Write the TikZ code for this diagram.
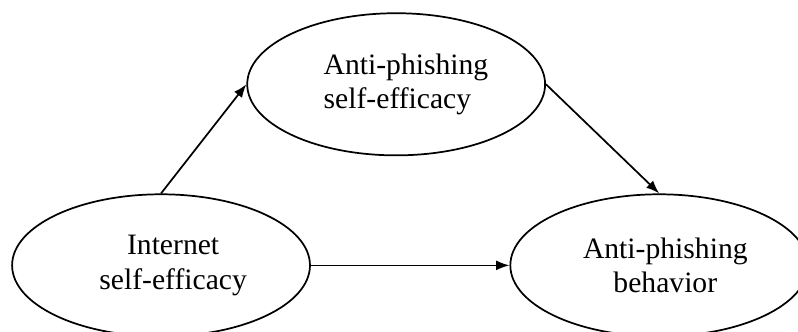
\documentclass[tikz,border=0pt]{standalone}
\usepackage{fontspec}
\setmainfont{Liberation Serif}
\usepackage{tikz}
\usetikzlibrary{arrows.meta, positioning, shapes.geometric}

\begin{document}
\begin{tikzpicture}[
    construct/.style={draw, ellipse, line width=1.3pt, inner sep=0pt, minimum width=7.88cm, minimum height=3.76cm},
    caption/.style={font=\fontsize{22.3}{26}\selectfont, inner sep=0pt, #1},
    path/.style={line width=1.3pt, -{Latex[length=10pt, width=7.5pt]}}
]
    \useasboundingbox (0,0) rectangle (21.11,8.76);

    \node[construct, label={[caption={align=left, xshift=0.26cm}]center:{Anti-phishing\\self-efficacy}}] (apse) at (10.48,6.53) {};
    \node[construct, label={[caption={align=center, xshift=0.32cm}]center:{Internet\\self-efficacy}}] (ise) at (4.26,1.74) {};
    \node[construct, label={[caption={align=center, xshift=0.16cm}]center:{Anti-phishing\\behavior}}] (apb) at (17.44,1.74) {};

    \draw[path] (ise.north) -- (apse.west);
    \draw[path] (apse.east) -- (apb.north);
    \draw[path] (ise.east) -- (apb.west);
\end{tikzpicture}
\end{document}
